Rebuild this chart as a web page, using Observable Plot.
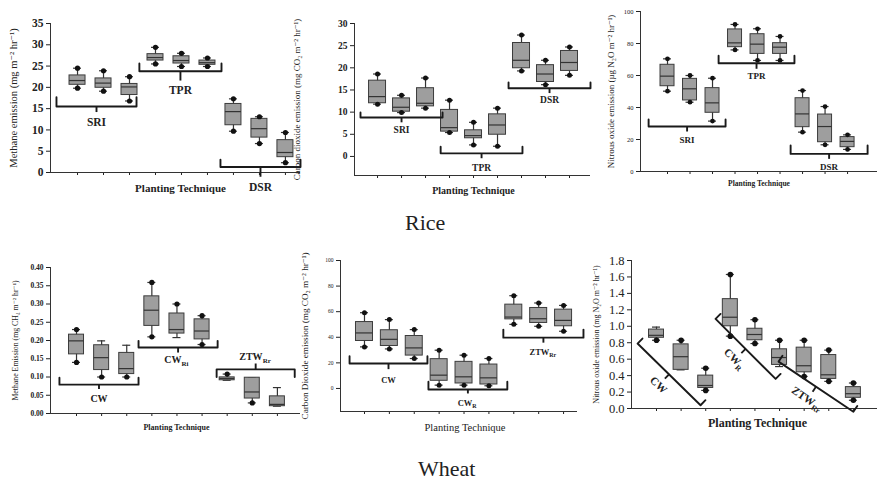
<!DOCTYPE html>
<html><head><meta charset="utf-8">
<script src="https://cdn.jsdelivr.net/npm/d3@7"></script>
<script src="https://cdn.jsdelivr.net/npm/@observablehq/plot@0.6"></script>
<style>
html,body{margin:0;padding:0;background:#fff;}
#fig{position:relative;width:883px;height:487px;overflow:hidden;background:#fff;}
#fig .p{position:absolute;}
#fig .ttl{position:absolute;font-family:"Liberation Serif",serif;font-size:22px;line-height:1;color:#222;white-space:nowrap;}
</style></head><body><div id="fig"></div>
<script>
// ---------- DATA (box stats per treatment: [lower whisker, Q1, median, Q3, upper whisker]) ----------
const positions = [1, 2, 3, 4, 5, 6, 7, 8, 9];

const riceCH4 = [
  [19.8, 20.6, 21.6, 22.8, 24.5], [19.1, 19.9, 21.0, 22.1, 23.9], [16.8, 18.2, 20.1, 20.8, 22.5],
  [25.5, 26.3, 27.0, 27.8, 29.4], [24.9, 25.6, 26.3, 27.3, 28.0], [24.9, 25.3, 25.8, 26.3, 26.9],
  [9.7, 11.1, 14.3, 16.1, 17.3], [6.8, 8.2, 10.3, 12.6, 13.1], [2.3, 3.6, 4.7, 7.6, 9.4]
];
const riceCO2 = [
  [11.8, 12.0, 13.5, 17.1, 18.6], [9.9, 10.1, 11.1, 13.1, 13.8], [10.9, 11.3, 12.0, 15.4, 17.7],
  [5.4, 5.6, 6.5, 10.5, 12.7], [2.6, 4.1, 4.7, 5.9, 7.7], [2.3, 4.9, 7.1, 9.5, 10.9],
  [19.3, 19.9, 21.7, 25.6, 27.4], [16.2, 16.8, 18.6, 20.6, 21.7], [18.3, 19.3, 21.2, 23.8, 24.7]
];
const riceN2O = [
  [50.2, 53.3, 59.6, 66.7, 70.4], [43.3, 44.4, 51.7, 57.9, 60.0], [31.5, 36.7, 42.9, 52.1, 58.3],
  [76.0, 77.7, 80.4, 88.8, 91.9], [69.4, 73.5, 79.6, 85.8, 89.2], [69.4, 73.5, 77.7, 80.2, 84.4],
  [24.6, 27.7, 36.0, 45.8, 50.6], [16.7, 18.3, 28.1, 35.6, 40.6], [13.8, 15.2, 18.8, 21.5, 22.9]
];
const wheatCH4 = [
  [0.140, 0.162, 0.199, 0.216, 0.230], [0.100, 0.119, 0.153, 0.187, 0.199], [0.100, 0.108, 0.123, 0.166, 0.187],
  [0.210, 0.240, 0.283, 0.321, 0.359], [0.208, 0.219, 0.230, 0.274, 0.300], [0.189, 0.203, 0.226, 0.258, 0.268],
  [0.091, 0.091, 0.096, 0.099, 0.108], [0.029, 0.041, 0.059, 0.098, 0.098], [0.020, 0.020, 0.025, 0.047, 0.071]
];
const wheatCO2 = [
  [32.5, 37.1, 43.4, 51.9, 59.2], [30.9, 33.2, 38.4, 45.5, 53.8], [23.4, 25.7, 31.7, 41.0, 46.0],
  [2.6, 6.0, 10.4, 22.9, 29.9], [2.6, 3.9, 9.1, 20.8, 26.0], [2.1, 3.1, 8.3, 18.7, 23.4],
  [50.1, 54.0, 55.8, 65.5, 72.5], [48.6, 51.2, 54.5, 62.9, 66.8], [44.7, 48.6, 53.2, 61.6, 64.9]
];
const wheatN2O = [
  [0.83, 0.86, 0.89, 0.96, 0.99], [0.47, 0.47, 0.63, 0.78, 0.83], [0.22, 0.25, 0.28, 0.40, 0.49],
  [0.88, 1.00, 1.11, 1.33, 1.63], [0.79, 0.83, 0.90, 0.97, 1.08], [0.51, 0.53, 0.62, 0.72, 0.83],
  [0.39, 0.44, 0.52, 0.74, 0.83], [0.33, 0.36, 0.41, 0.65, 0.71], [0.10, 0.13, 0.18, 0.26, 0.31]
];

// which whisker ends carry a dot (t = top, b = bottom)
const riceCH4Dots = ["tb","tb","tb","tb","tb","tb","tb","tb","tb"];
const riceCO2Dots = ["tb","tb","tb","tb","tb","tb","tb","tb","tb"];
const riceN2ODots = ["tb","tb","tb","tb","tb","tb","tb","tb","tb"];
const wheatCH4Dots = ["tb","b","b","tb","t","tb","t","b",""];
const wheatCO2Dots = ["tb","tb","tb","tb","tb","tb","tb","tb","tb"];
const wheatN2ODots = ["b","t","tb","tb","tb","t","tb","tb","tb"];

// group labels (main text + subscript)
const riceGroups = ["SRI", "TPR", "DSR"];
const riceSubs = ["", "", ""];
const wheatGroups = ["CW", "CW", "ZTW"];
const wheatCH4Subs = ["", "Ri", "Rr"];
const wheatCO2Subs = ["", "R", "Rr"];
const wheatN2OSubs = ["", "R", "Rr"];

// group brackets in data units: [x from, x to, bar level, end level, centre-tick level, label level]
const riceCH4Braces = [[0.19, 3.27, 15.5, 17.7, 14.2, 11.8], [3.38, 6.54, 23.8, 25.6, 21.6, 19.3], [6.5, 9.58, 1.3, 3.0, -1.0, -3.4]];
const riceCO2Braces = [[0.29, 3.71, 8.8, 9.9, 7.7, 5.9], [3.63, 7.04, 0.7, 2.2, -0.4, -2.6], [6.46, 9.875, 15.4, 16.7, 14.3, 12.7]];
const riceN2OBraces = [[0.16, 3.58, 28.1, 32.5, 25, 19.4], [3.27, 6.64, 67.7, 72.3, 64.2, 59.4], [6.47, 9.89, 11, 16.3, 7.9, 2.7]];
const wheatCH4Braces = [[0.32, 3.47, 0.079, 0.098, 0.067, 0.041], [3.47, 6.62, 0.181, 0.199, 0.167, 0.146], [6.58, 9.69, 0.121, 0.100, 0.137, 0.155]];
const wheatCO2Braces = [[0.40, 3.53, 19.5, 25.2, 15.1, 6.5], [3.57, 6.74, -0.8, 5.2, -3.9, -11.7], [6.58, 9.8, 39.7, 46, 35.8, 28.6]];
// diagonal brackets: [start x, start y, end x, end y]
const wheatN2OBraces = [[0.23, 0.79, 2.79, 0.04], [3.4, 1.09, 5.84, 0.36], [5.96, 0.57, 9.0, -0.04]];

// tick values
const riceCH4Ticks = [0, 5, 10, 15, 20, 25, 30, 35];
const riceCO2Ticks = [0, 5, 10, 15, 20, 25, 30];
const riceN2OTicks = [0, 20, 40, 60, 80, 100];
const wheatCH4Ticks = [0, 0.05, 0.10, 0.15, 0.20, 0.25, 0.30, 0.35, 0.40];
const wheatCO2Ticks = [0, 20, 40, 60, 80, 100];
const wheatN2OTicks = [0, 0.2, 0.4, 0.6, 0.8, 1.0, 1.2, 1.4, 1.6, 1.8];

// ---------- DRAWING ----------
const SERIF = '"Liberation Serif", "DejaVu Serif", serif';
const INK = "#222";

function labelMarks(x, y, main, sub, fs, rot) {
  const r = rot * Math.PI / 180, c = Math.cos(r), s = Math.sin(r);
  const common = {fontFamily: SERIF, fontWeight: "bold", fill: INK, rotate: rot, lineAnchor: "middle"};
  const d = [{x, y}];
  if (!sub) return [Plot.text(d, {x: "x", y: "y", text: () => main, fontSize: fs, textAnchor: "middle", ...common})];
  const sfs = fs * 0.7;
  const M = main.length * fs * 0.72, S = sub.length * sfs * 0.55;
  const off = (M - S) / 2, drop = fs * 0.35;
  return [
    Plot.text(d, {x: "x", y: "y", text: () => main, fontSize: fs, textAnchor: "end", dx: c * off, dy: s * off, ...common}),
    Plot.text(d, {x: "x", y: "y", text: () => sub, fontSize: sfs, textAnchor: "start", dx: c * off - s * drop, dy: s * off + c * drop, ...common})
  ];
}

function makePanel(cfg) {
  const pxX = (cfg.width - cfg.ml - cfg.mr) / (cfg.xd[1] - cfg.xd[0]);
  const pxY = (cfg.height - cfg.mt - cfg.mb) / (cfg.yd[1] - cfg.yd[0]);
  const bw = cfg.boxPx / pxX, cw = 4 / pxX;
  const rows = cfg.data.map((d, i) => ({pos: positions[i], lo: d[0], q1: d[1], med: d[2], q3: d[3], hi: d[4]}));
  const dotRows = rows.flatMap((r, i) => [
    ...(cfg.dots[i].includes("t") ? [{x: r.pos, y: r.hi}] : []),
    ...(cfg.dots[i].includes("b") ? [{x: r.pos, y: r.lo}] : [])
  ]);
  const bracePts = [], tks = [], labels = [];
  if (!cfg.diagonal) {
    cfg.braces.forEach((b, k) => {
      const [x1, x2, y, yEnd, yTick, yLab] = b;
      const xc = (x1 + x2) / 2;
      bracePts.push({x: x1, y: yEnd, k}, {x: x1, y, k}, {x: x2, y, k}, {x: x2, y: yEnd, k});
      tks.push({x1: xc, y1: y, x2: xc, y2: yTick});
      labels.push({x: xc, y: yLab, rot: 0, main: cfg.groups[k], sub: cfg.subs[k]});
    });
  } else {
    cfg.braces.forEach((b, k) => {
      const [sx, sy, ex, ey] = b;
      const dxp = (ex - sx) * pxX, dyp = -(ey - sy) * pxY;
      const len = Math.hypot(dxp, dyp);
      const px = dyp / len, py = -dxp / len;
      const toX = p => p / pxX, toY = p => -p / pxY;
      const hook = 7, tk = 6, lab = 15;
      const mx = (sx + ex) / 2, my = (sy + ey) / 2;
      bracePts.push({x: sx + toX(px * hook), y: sy + toY(py * hook), k}, {x: sx, y: sy, k},
                    {x: ex, y: ey, k}, {x: ex + toX(px * hook), y: ey + toY(py * hook), k});
      tks.push({x1: mx, y1: my, x2: mx - toX(px * tk), y2: my - toY(py * tk)});
      labels.push({x: mx - toX(px * lab), y: my - toY(py * lab), rot: Math.atan2(dyp, dxp) * 180 / Math.PI,
                   main: cfg.groups[k], sub: cfg.subs[k]});
    });
  }
  const marks = [
    Plot.ruleX([cfg.xd[0]], {stroke: "#333", strokeWidth: 1}),
    Plot.ruleY([cfg.yd[0]], {stroke: "#333", strokeWidth: 1}),
    Plot.ruleX(rows, {x: "pos", y1: "lo", y2: "hi", stroke: "#333", strokeWidth: 1.2}),
    Plot.ruleY(rows, {y: "hi", x1: d => d.pos - cw, x2: d => d.pos + cw, stroke: "#333", strokeWidth: 1.2}),
    Plot.ruleY(rows, {y: "lo", x1: d => d.pos - cw, x2: d => d.pos + cw, stroke: "#333", strokeWidth: 1.2}),
    Plot.rect(rows, {x1: d => d.pos - bw, x2: d => d.pos + bw, y1: "q1", y2: "q3", fill: "#9e9e9e", stroke: "#3c3c3c", strokeWidth: 1}),
    Plot.ruleY(rows, {y: "med", x1: d => d.pos - bw, x2: d => d.pos + bw, stroke: "#333", strokeWidth: 1.2}),
    Plot.dot(dotRows, {x: "x", y: "y", r: cfg.dotR, fill: "#111", stroke: "none"}),
    Plot.line(bracePts, {x: "x", y: "y", z: "k", stroke: "#1a1a1a", strokeWidth: 1.9, strokeLinejoin: "round"}),
    Plot.link(tks, {x1: "x1", y1: "y1", x2: "x2", y2: "y2", stroke: "#1a1a1a", strokeWidth: 1.9}),
    ...labels.flatMap(l => labelMarks(l.x, l.y, l.main, l.sub, cfg.groupFont, l.rot)),
    Plot.text([0], {frameAnchor: "left", text: () => cfg.ylabel, rotate: -90, dx: cfg.ylabelDx, textAnchor: "middle", lineAnchor: "middle",
                    fontSize: cfg.ylabelFont, fontFamily: SERIF, fontWeight: "normal", fill: INK}),
    Plot.text([0], {frameAnchor: "bottom", text: () => "Planting Technique", dx: cfg.xlabelDx, dy: cfg.xlabelDy, textAnchor: "middle", lineAnchor: "middle",
                    fontSize: cfg.xlabelFont, fontFamily: SERIF, fontWeight: cfg.xlabelBold ? "bold" : "normal", fill: INK})
  ];
  const chart = Plot.plot({
    width: cfg.width, height: cfg.height,
    marginLeft: cfg.ml, marginRight: cfg.mr, marginTop: cfg.mt, marginBottom: cfg.mb,
    x: {type: "linear", domain: cfg.xd, ticks: positions, tickFormat: () => "", tickSize: 3, label: null},
    y: {type: "linear", domain: cfg.yd, ticks: cfg.yticks, tickFormat: cfg.fmt, tickSize: 4, tickPadding: 3, label: null},
    style: {fontFamily: SERIF, fontSize: cfg.tickFont + "px", fontWeight: cfg.tickBold ? "bold" : "normal",
            color: INK, background: "transparent", overflow: "visible"},
    marks
  });
  const wrap = document.createElement("div");
  wrap.className = "p";
  wrap.style.left = cfg.left + "px";
  wrap.style.top = cfg.top + "px";
  wrap.appendChild(chart);
  return wrap;
}

const fig = document.getElementById("fig");
const intFmt = d => d3.format("d")(d);

const panels = [
  {data: riceCH4, dots: riceCH4Dots, braces: riceCH4Braces, groups: riceGroups, subs: riceSubs,
   left: 0, top: 0, width: 305, height: 200, ml: 50, mr: 5, mt: 23, mb: 28, xd: [-0.04, 9.58], yd: [0, 35],
   yticks: riceCH4Ticks, fmt: intFmt, tickFont: 11.5, tickBold: true, boxPx: 8, dotR: 2.6,
   ylabel: "Methane emission (mg m⁻² hr⁻¹)", ylabelFont: 10.5, ylabelDx: -37,
   xlabelFont: 11, xlabelBold: true, xlabelDx: 5, xlabelDy: 16, groupFont: 11.5},
  {data: riceCO2, dots: riceCO2Dots, braces: riceCO2Braces, groups: riceGroups, subs: riceSubs,
   left: 290, top: 0, width: 305, height: 200, ml: 64, mr: 5, mt: 23, mb: 25, xd: [0.04, 9.875], yd: [-4.3, 30],
   yticks: riceCO2Ticks, fmt: intFmt, tickFont: 9.5, tickBold: true, boxPx: 8.5, dotR: 2.5,
   ylabel: "Carbon dioxide emission (mg CO₂ m⁻² hr⁻¹)", ylabelFont: 9, ylabelDx: -57,
   xlabelFont: 10, xlabelBold: true, xlabelDx: 1, xlabelDy: 15, groupFont: 9.5},
  {data: riceN2O, dots: riceN2ODots, braces: riceN2OBraces, groups: riceGroups, subs: riceSubs,
   left: 590, top: 0, width: 292, height: 200, ml: 50, mr: 5, mt: 11, mb: 29, xd: [-0.2, 10.33], yd: [0, 100],
   yticks: riceN2OTicks, fmt: intFmt, tickFont: 6.5, tickBold: false, boxPx: 7, dotR: 2.4,
   ylabel: "Nitrous oxide emission (µg N₂O m⁻² hr⁻¹)", ylabelFont: 9, ylabelDx: -29,
   xlabelFont: 7.5, xlabelBold: true, xlabelDx: 0, xlabelDy: 12, groupFont: 9},
  {data: wheatCH4, dots: wheatCH4Dots, braces: wheatCH4Braces, groups: wheatGroups, subs: wheatCH4Subs,
   left: 0, top: 250, width: 305, height: 190, ml: 50, mr: 5, mt: 17, mb: 27, xd: [-0.036, 9.92], yd: [0, 0.40],
   yticks: wheatCH4Ticks, fmt: d3.format(".2f"), tickFont: 7.5, tickBold: true, boxPx: 7.5, dotR: 2.6,
   ylabel: "Methane Emission (mg CH₄ m⁻² hr⁻¹)", ylabelFont: 7.8, ylabelDx: -35,
   xlabelFont: 8, xlabelBold: true, xlabelDx: 1, xlabelDy: 14, groupFont: 10},
  {data: wheatCO2, dots: wheatCO2Dots, braces: wheatCO2Braces, groups: wheatGroups, subs: wheatCO2Subs,
   left: 290, top: 250, width: 292, height: 190, ml: 50, mr: 5, mt: 10, mb: 29, xd: [0.036, 9.56], yd: [-18, 100],
   yticks: wheatCO2Ticks, fmt: intFmt, tickFont: 5.5, tickBold: false, boxPx: 8.5, dotR: 2.5,
   ylabel: "Carbon Dioxide emission (mg CO₂ m⁻² hr⁻¹)", ylabelFont: 9.2, ylabelDx: -35,
   xlabelFont: 10.5, xlabelBold: false, xlabelDx: 6, xlabelDy: 16, groupFont: 8.5},
  {data: wheatN2O, dots: wheatN2ODots, braces: wheatN2OBraces, groups: wheatGroups, subs: wheatN2OSubs, diagonal: true,
   left: 583, top: 250, width: 299, height: 190, ml: 48, mr: 5, mt: 10, mb: 32, xd: [-0.016, 9.98], yd: [0, 1.8],
   yticks: wheatN2OTicks, fmt: d3.format(".1f"), tickFont: 12.5, tickBold: false, boxPx: 7.5, dotR: 2.8,
   ylabel: "Nitrous oxide emission (mg N₂O m⁻² hr⁻¹)", ylabelFont: 8, ylabelDx: -35,
   xlabelFont: 12, xlabelBold: true, xlabelDx: 3, xlabelDy: 15, groupFont: 11}
];
panels.forEach(p => fig.appendChild(makePanel(p)));

const titles = [["Rice", 405, 212], ["Wheat", 418, 458]];
titles.forEach(([t, x, y]) => {
  const el = document.createElement("div");
  el.className = "ttl";
  el.textContent = t;
  el.style.left = x + "px";
  el.style.top = y + "px";
  fig.appendChild(el);
});
</script>
</body></html>
